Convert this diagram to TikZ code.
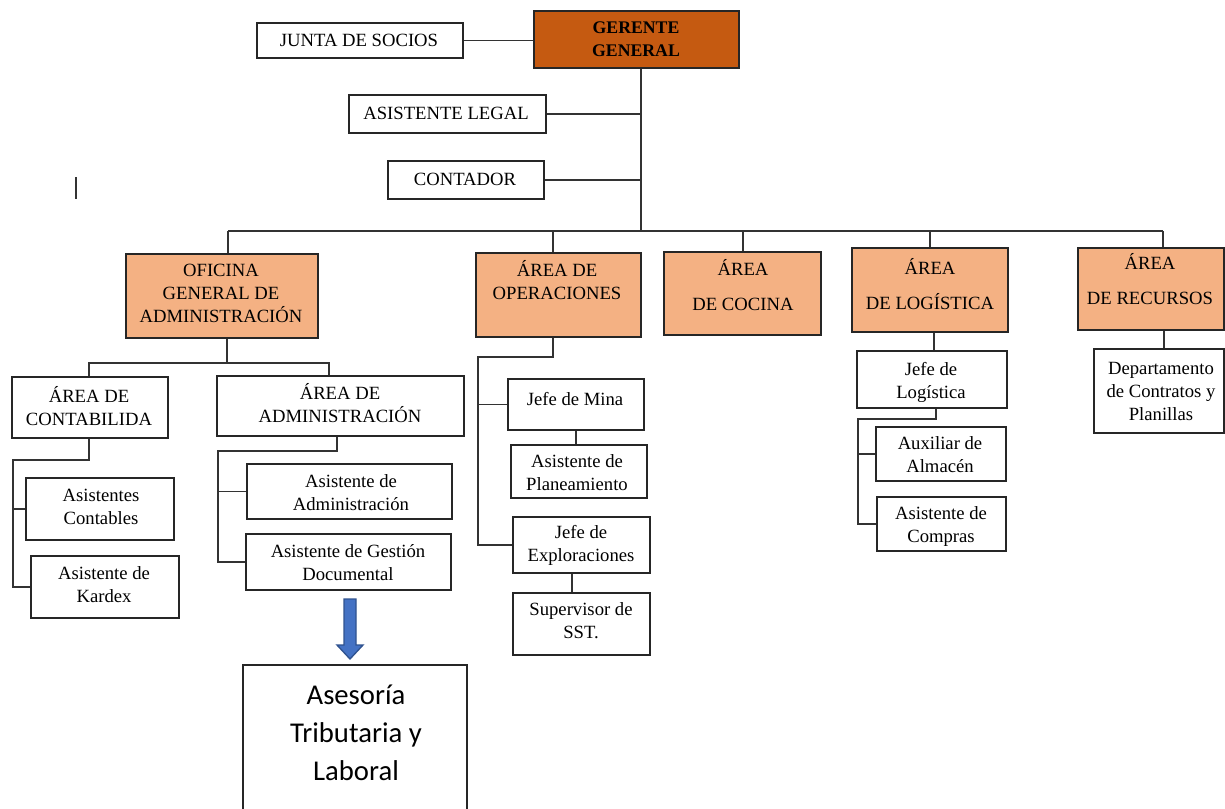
\documentclass[tikz,border=0pt]{standalone}
\usepackage{fontspec}
\setmainfont{Liberation Serif}
\newfontfamily\calibrifont{Carlito}
\definecolor{ggfill}{HTML}{C55A11}
\definecolor{orfill}{HTML}{F4B183}
\definecolor{arrfill}{HTML}{4472C4}
\definecolor{arrdraw}{HTML}{2F528F}
\tikzset{
  box/.style={draw=black!85, line width=1pt, inner sep=0pt, fill=white},
  obox/.style={box, fill=orfill},
  gbox/.style={box, fill=ggfill, line width=1.3pt},
  txt/.style={font=\fontsize{14}{17.25}\selectfont, align=center, inner sep=0pt, yshift=-1.5pt,
    execute at begin node=\strut, execute at end node=\strut},
  ctxt/.style={txt, font=\fontsize{14}{17.25}\selectfont},
  btxt/.style={txt, font=\fontsize{13.3}{17.25}\selectfont\bfseries},
  conn/.style={draw=black!80, line width=1pt},
}
\newcommand{\bx}[6][]{\node[box,#1,minimum width={(#5-#3)*0.75pt},minimum height={(#6-#4)*0.75pt}] (#2) at ({(#3+#5)/2},{(#4+#6)/2}) {};}
\begin{document}
\begin{tikzpicture}[x=0.75pt,y=-0.75pt]
\fill[white] (0,0) rectangle (1225,808);
\useasboundingbox (0,0) rectangle (1225,808);

% ---- top level
\bx{junta}{257}{23}{463}{58}
\bx[gbox]{gg}{534}{11}{739}{68}
\bx{al}{349}{95}{546}{133}
\bx{cont}{388}{161}{544}{199}
\node[ctxt] (t-junta) at (359,40) {JUNTA DE SOCIOS};
\node[btxt] (t-gg) at (636,41) {GERENTE\\GENERAL};
\node[ctxt] (t-al) at (446,113) {ASISTENTE LEGAL};
\node[ctxt] (t-cont) at (465,179) {CONTADOR};

% ---- areas
\bx[obox]{ofi}{126}{254}{318}{338}
\bx[obox]{ops}{476}{253}{641}{337}
\bx[obox]{coc}{664}{252}{821}{335}
\bx[obox]{log}{852}{248}{1008}{332}
\bx[obox]{rec}{1078}{248}{1224}{330}
\node[ctxt] (t-ofi) at (221,295) {OFICINA\\GENERAL DE\\ADMINISTRACIÓN};
\node[ctxt] (t-ops) at (557,281) {ÁREA DE\\OPERACIONES};
\node[ctxt] (t-coc) at (743,286) {ÁREA\\[9pt]DE COCINA};
\node[ctxt] (t-log) at (930,285) {ÁREA\\[9pt]DE LOGÍSTICA};
\node[ctxt] (t-rec) at (1150,280) {ÁREA\\[9pt]DE RECURSOS};

% ---- admin branch
\bx{acont}{12}{377}{168}{438}
\bx{aadm}{217}{376}{464}{436}
\bx{asc}{26}{478}{174}{540}
\bx{kar}{31}{556}{179}{618}
\bx{asad}{247}{464}{452}{519}
\bx{gest}{246}{534}{451}{590}
\node[ctxt] (t-acont) at (89,407) {ÁREA DE\\CONTABILIDA};
\node[ctxt] (t-aadm) at (340,404) {ÁREA DE\\ADMINISTRACIÓN};
\node[txt] (t-asc) at (101,508) {Asistentes\\Contables};
\node[txt] (t-kar) at (104,586) {Asistente de\\Kardex};
\node[txt] (t-asad) at (351,494) {Asistente de\\Administración};
\node[txt] (t-gest) at (348,564) {Asistente de Gestión\\Documental};

% ---- operations branch
\bx{mina}{508}{379}{644}{430}
\bx{plan}{511}{445}{647}{498}
\bx{expl}{513}{517}{650}{573}
\bx{sst}{513}{593}{650}{655}
\node[txt] (t-mina) at (575,399) {Jefe de Mina};
\node[txt] (t-plan) at (577,474) {Asistente de\\Planeamiento};
\node[txt] (t-expl) at (581,545) {Jefe de\\Exploraciones};
\node[txt] (t-sst) at (581,622) {Supervisor de\\SST.};

% ---- logistics branch
\bx{jlog}{857}{351}{1007}{408}
\bx{aux}{876}{427}{1006}{481}
\bx{comp}{877}{497}{1006}{551}
\node[txt] (t-jlog) at (931,382) {Jefe de\\Logística};
\node[txt] (t-aux) at (940,456) {Auxiliar de\\Almacén};
\node[txt] (t-comp) at (941,526) {Asistente de\\Compras};

% ---- resources branch
\bx{dep}{1094}{349}{1224}{433}
\node[txt] (t-dep) at (1161,393) {Departamento\\de Contratos y\\Planillas};

% ---- asesoria
\node[box, line width=1.6pt, minimum width={224*0.75pt}, minimum height={170*0.75pt}] (ases) at (355,750) {};
\node[txt, yshift=0pt, font=\fontsize{21.5}{28.5}\selectfont\calibrifont] (t-ases) at (356,736) {Asesoría\\Tributaria y\\Laboral};

% ---- connectors
\coordinate (gB) at (641,231);
\draw[conn] (junta.east) -- (junta.east -| gg.west);
\draw[conn] (gB |- gg.south) -- (gB);
\draw[conn] (al.east) -- (al.east -| gB);
\draw[conn] (cont.east) -- (cont.east -| gB);

\coordinate (jOfi) at (228,231);
\coordinate (jOps) at (553,231);
\coordinate (jCoc) at (743,231);
\coordinate (jLog) at (930,231);
\coordinate (jRec) at (1163,231);
\draw[conn] (jOfi) -- (jRec);
\draw[conn] (jOfi) -- (jOfi |- ofi.north);
\draw[conn] (jOps) -- (jOps |- ops.north);
\draw[conn] (jCoc) -- (jCoc |- coc.north);
\draw[conn] (jLog) -- (jLog |- log.north);
\draw[conn] (jRec) -- (jRec |- rec.north);

\coordinate (oJ) at (227,363);
\coordinate (oL) at (89,363);
\coordinate (oR) at (329,363);
\draw[conn] (oJ |- ofi.south) -- (oJ);
\draw[conn] (oL |- acont.north) -- (oL) -- (oR) -- (oR |- aadm.north);

\coordinate (cA) at (89,460);
\coordinate (cB) at (13,460);
\draw[conn] (cA |- acont.south) -- (cA) -- (cB) -- (cB |- kar.west) -- (kar.west);
\draw[conn] (cB |- asc.west) -- (asc.west);

\coordinate (dA) at (337,451);
\coordinate (dB) at (218,451);
\draw[conn] (dA |- aadm.south) -- (dA) -- (dB) -- (dB |- gest.west) -- (gest.west);
\draw[conn] (dB |- asad.west) -- (asad.west);

\coordinate (pA) at (553,357);
\coordinate (pB) at (478,357);
\draw[conn] (pA |- ops.south) -- (pA) -- (pB) -- (pB |- expl.west) -- (expl.west);
\draw[conn] (pB |- mina.west) -- (mina.west);
\coordinate (mp) at (576,0);
\draw[conn] (mp |- mina.south) -- (mp |- plan.north);
\coordinate (es) at (572,0);
\draw[conn] (es |- expl.south) -- (es |- sst.north);

\coordinate (lg) at (934,0);
\draw[conn] (lg |- log.south) -- (lg |- jlog.north);
\coordinate (lA) at (936,419);
\coordinate (lB) at (858,419);
\draw[conn] (lA |- jlog.south) -- (lA) -- (lB) -- (lB |- comp.west) -- (comp.west);
\draw[conn] (lB |- aux.west) -- (aux.west);

\coordinate (rd) at (1164,0);
\draw[conn] (rd |- rec.south) -- (rd |- dep.north);

% ---- block arrow
\draw[fill=arrfill, draw=arrdraw, line width=1pt]
  (344,599) -- (356,599) -- (356,645) -- (363,645) -- (350,659) -- (337,645) -- (344,645) -- cycle;

% ---- stray mark
\draw[black!80, line width=1.5pt] (76,177) -- (76,199);
\end{tikzpicture}
\end{document}
